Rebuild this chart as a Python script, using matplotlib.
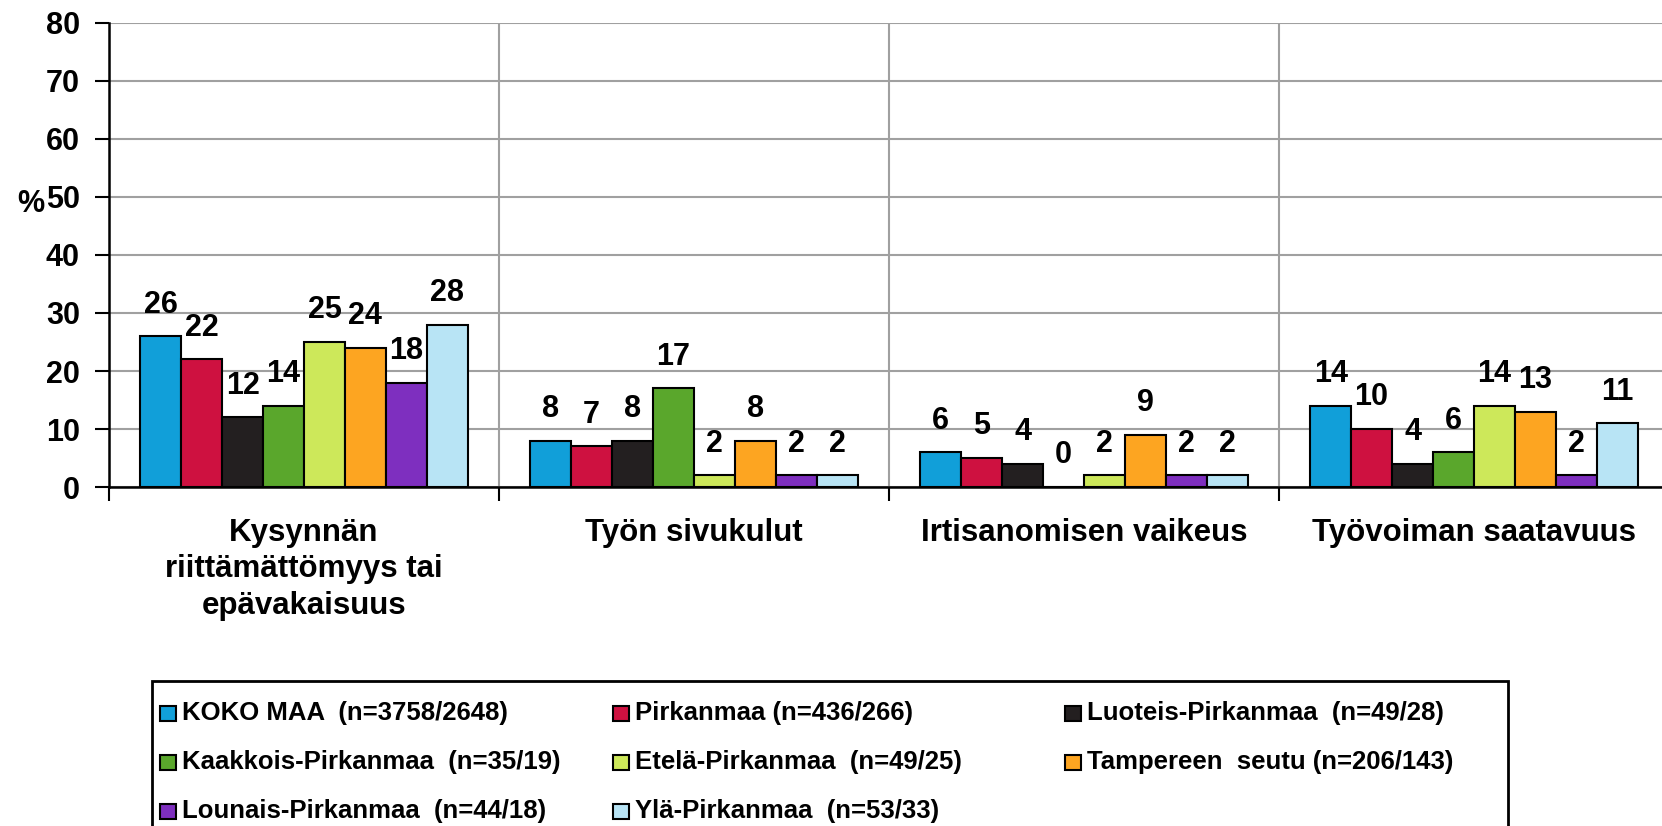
import matplotlib
matplotlib.use("Agg")
import matplotlib.pyplot as plt
from matplotlib.patches import Rectangle
import numpy as np

categories = ["Kysynnän\nriittämättömyys tai\nepävakaisuus", "Työn sivukulut",
              "Irtisanomisen vaikeus", "Työvoiman saatavuus"]
series_names = ["KOKO MAA  (n=3758/2648)", "Pirkanmaa (n=436/266)", "Luoteis-Pirkanmaa  (n=49/28)",
                "Kaakkois-Pirkanmaa  (n=35/19)", "Etelä-Pirkanmaa  (n=49/25)", "Tampereen  seutu (n=206/143)",
                "Lounais-Pirkanmaa  (n=44/18)", "Ylä-Pirkanmaa  (n=53/33)"]
koko_maa = [26, 8, 6, 14]
pirkanmaa = [22, 7, 5, 10]
luoteis = [12, 8, 4, 4]
kaakkois = [14, 17, 0, 6]
etela = [25, 2, 2, 14]
tampere = [24, 8, 9, 13]
lounais = [18, 2, 2, 2]
yla = [28, 2, 2, 11]
series = [koko_maa, pirkanmaa, luoteis, kaakkois, etela, tampere, lounais, yla]
colors = ["#119FD9", "#CE1140", "#231F20", "#5AA72C", "#CDE85A", "#FDA521", "#7E2FBF", "#B8E4F5"]
yticks = [0, 10, 20, 30, 40, 50, 60, 70, 80]

plt.rcParams['font.family'] = ['Liberation Sans', 'DejaVu Sans']
plt.rcParams['font.weight'] = 'bold'

fig = plt.figure(figsize=(16.62, 8.26), dpi=100)
W, H = 1662, 826
ax = fig.add_axes([109 / W, 1 - 487 / H, (1669 - 109) / W, (487 - 23) / H])

n = len(series)
group_w = 0.84
bw = group_w / n
x = np.arange(len(categories)) + 0.5
for i, (vals, c, name) in enumerate(zip(series, colors, series_names)):
    pos = x - group_w / 2 + bw * (i + 0.5)
    bars = ax.bar(pos, vals, width=bw, color=c, edgecolor="black", linewidth=1.5, label=name, zorder=3)
    for b, v in zip(bars, vals):
        ax.annotate(str(v), (b.get_x() + b.get_width() / 2, v), xytext=(0, 12),
                    textcoords="offset points", ha="center", va="bottom",
                    fontsize=22, fontweight="bold", zorder=4)

ax.set_ylim(0, 80)
ax.set_xlim(0, 4)
ax.set_yticks(yticks)
ax.set_yticklabels([str(t) for t in yticks], fontsize=22, fontweight="bold")
ax.tick_params(axis="y", direction="out", length=10, width=1.5, pad=11)
ax.set_xticks([0, 1, 2, 3, 4])
ax.set_xticklabels([])
ax.tick_params(axis="x", which="major", direction="out", length=10, width=1.5)
ax.set_xticks(x, minor=True)
ax.set_xticklabels(categories, minor=True, fontsize=22.5, fontweight="bold", linespacing=1.3)
ax.tick_params(axis="x", which="minor", length=0, pad=22)
ax.grid(True, axis="both", which="major", color="#A0A0A0", linewidth=1.5, zorder=0)
for s in ["top", "right"]:
    ax.spines[s].set_visible(False)
ax.spines["left"].set_linewidth(1.8)
ax.spines["bottom"].set_linewidth(1.8)
ax.spines["left"].set_zorder(5)
ax.spines["bottom"].set_zorder(5)

fig.text(31 / W, 1 - 204 / H, "%", fontsize=22, fontweight="bold", ha="center", va="center")

# legend drawn manually with equal column widths
frame = Rectangle((152 / W, -0.05), (1508 - 152) / W, 0.05 + (826 - 681) / H,
                  transform=fig.transFigure, facecolor="white", edgecolor="black", linewidth=2)
fig.patches.append(frame)
col_x = [160, 613, 1065]
row_y = [713, 762, 811]
for i, (name, c) in enumerate(zip(series_names, colors)):
    r, k = divmod(i, 3)
    mx, my = col_x[k], row_y[r]
    fig.patches.append(Rectangle((mx / W, 1 - (my + 8) / H), 16 / W, 15 / H,
                                 transform=fig.transFigure, facecolor=c, edgecolor="black", linewidth=1.5))
    fig.text((mx + 22) / W, 1 - my / H, name, fontsize=18.5, fontweight="bold", ha="left", va="center")

fig.savefig("out.png", dpi=100, facecolor="white")
